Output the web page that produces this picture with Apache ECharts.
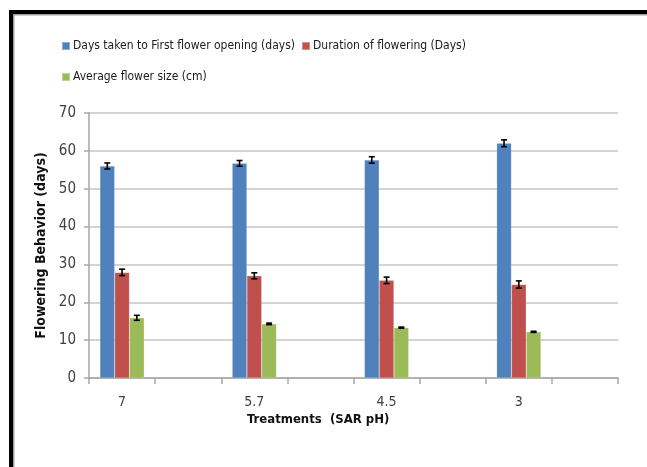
<!DOCTYPE html>
<html>
<head>
<meta charset="utf-8">
<script src="https://cdn.jsdelivr.net/npm/echarts@6/dist/echarts.min.js"></script>
<style>html,body{margin:0;padding:0;background:#fff;}#c{width:647px;height:467px;}</style>
</head>
<body>
<div id="c"></div>
<script>
const treatments = ['7', '5.7', '4.5', '3'];
const seriesNames = ['Days taken to First flower opening (days)', 'Duration of flowering (Days)', 'Average flower size (cm)'];
const daysToFirstFlower = [56.0, 56.7, 57.6, 62.0];
const durationFlowering = [27.9, 27.0, 25.8, 24.7];
const avgFlowerSize = [15.9, 14.3, 13.3, 12.2];
const errDaysToFirst = [0.8, 0.75, 0.85, 0.9];
const errDuration = [0.85, 0.8, 0.85, 0.95];
const errSize = [0.65, 0.2, 0.15, 0.15];
const yTicks = [0, 10, 20, 30, 40, 50, 60, 70];

const colors = ['#4F81BD', '#C0504D', '#9BBB59'];
const GAP = 0.33;

// pick a narrow font if one is installed
const cvs = document.createElement('canvas').getContext('2d');
function w(font, txt) { cvs.font = font; return cvs.measureText(txt).width; }
const probe = 'Days taken to First flower opening (days)';
let narrow = null;
['Liberation Sans Narrow', 'Arial Narrow', 'DejaVu Sans Condensed', 'Roboto Condensed', 'Open Sans Condensed', 'Noto Sans Condensed'].forEach(f => {
  if (narrow) return;
  if (w('20px "' + f + '", monospace', probe) !== w('20px monospace', probe)) narrow = f;
});
const FONT = (narrow ? '"' + narrow + '", ' : '') + '"Liberation Sans", sans-serif';
const lw = w('13px ' + FONT, probe);
const legendSize = Math.max(12, Math.min(13, 13 * 199 / lw));

const categories = [];
treatments.forEach((t, i) => { categories.push(t); categories.push('gap' + i); });
function spread(arr) { const out = []; arr.forEach(v => { out.push(v); out.push(null); }); return out; }

const values = [daysToFirstFlower, durationFlowering, avgFlowerSize];
const errs = [errDaysToFirst, errDuration, errSize];

const series = values.map((v, i) => ({
  name: seriesNames[i], type: 'bar', data: spread(v),
  barGap: '0%', barCategoryGap: (GAP * 100) + '%',
  itemStyle: { color: colors[i], borderColor: 'rgba(255,255,255,0.35)', borderWidth: 0.5 },
  legendHoverLink: false
}));

values.forEach((v, si) => {
  const d = v.map((val, k) => [k * 2, val, errs[si][k]]);
  series.push({
    type: 'custom', name: 'err' + si, z: 10,
    data: d,
    renderItem: function (params, api) {
      const ci = api.value(0), val = api.value(1), e = api.value(2);
      const band = api.size([1, 0])[0];
      const bw = band * (1 - GAP) / 3;
      const c = api.coord([ci, val]);
      const x = c[0] + (si - 1) * bw;
      const yT = api.coord([ci, val + e])[1];
      const yB = api.coord([ci, val - e])[1];
      const cap = 3;
      const st = { stroke: '#000', lineWidth: 1.6 };
      return { type: 'group', children: [
        { type: 'line', shape: { x1: x, y1: yT, x2: x, y2: yB }, style: st },
        { type: 'line', shape: { x1: x - cap, y1: yT, x2: x + cap, y2: yT }, style: st },
        { type: 'line', shape: { x1: x - cap, y1: yB, x2: x + cap, y2: yB }, style: st }
      ]};
    }
  });
});

const chart = echarts.init(document.getElementById('c'), null, { renderer: 'canvas' });
chart.setOption({
  animation: false,
  backgroundColor: '#fff',
  textStyle: { fontFamily: FONT },
  grid: { left: 89, right: 29, top: 113, bottom: 89, containLabel: false },
  legend: [
    { left: 56, top: 35, itemWidth: 8, itemHeight: 8, itemGap: 6, icon: 'rect',
      data: [seriesNames[0], seriesNames[1]],
      textStyle: { fontFamily: FONT, fontSize: legendSize, color: '#1a1a1a', padding: [0, 0, 0, -2] } },
    { left: 56, top: 66, itemWidth: 8, itemHeight: 8, itemGap: 6, icon: 'rect',
      data: [seriesNames[2]],
      textStyle: { fontFamily: FONT, fontSize: legendSize, color: '#1a1a1a', padding: [0, 0, 0, -2] } }
  ],
  xAxis: {
    type: 'category', data: categories, boundaryGap: true,
    axisLine: { lineStyle: { color: '#a6a6a6', width: 1.5 } },
    axisTick: { show: true, length: 6, lineStyle: { color: '#a6a6a6', width: 1.5 }, interval: 0 },
    axisLabel: { interval: 0, margin: 17, fontSize: 14, color: '#404040', fontFamily: FONT,
      formatter: v => v.startsWith('gap') ? '' : v },
    splitLine: { show: false }
  },
  yAxis: {
    type: 'value', min: yTicks[0], max: yTicks[yTicks.length - 1], interval: 10,
    name: 'Flowering Behavior (days)', nameLocation: 'middle', nameGap: 34, nameRotate: 90,
    nameTextStyle: { fontFamily: FONT, fontWeight: 'bold', fontSize: 14, color: '#111' },
    axisLine: { show: true, lineStyle: { color: '#a6a6a6', width: 1.5 } },
    axisTick: { show: true, length: 5, lineStyle: { color: '#a6a6a6', width: 1.5 } },
    axisLabel: { margin: 13, fontSize: 15, color: '#404040', fontFamily: FONT },
    splitLine: { lineStyle: { color: '#c4c4c4', width: 1.5 } }
  },
  graphic: [
    { type: 'text', left: 247, top: 413, style: { text: 'Treatments  (SAR pH)', fontFamily: FONT, fontWeight: 'bold', fontSize: 13, fill: '#111' } },
    { type: 'rect', shape: { x: 9, y: 10, width: 640, height: 4 }, style: { fill: '#000' }, silent: true },
    { type: 'rect', shape: { x: 9, y: 10, width: 4, height: 460 }, style: { fill: '#000' }, silent: true },
    { type: 'rect', shape: { x: 13, y: 14, width: 640, height: 1.5 }, style: { fill: '#a0a0a0' }, silent: true },
    { type: 'rect', shape: { x: 13, y: 14, width: 1.5, height: 460 }, style: { fill: '#a0a0a0' }, silent: true }
  ],
  series: series
});
</script>
</body>
</html>
